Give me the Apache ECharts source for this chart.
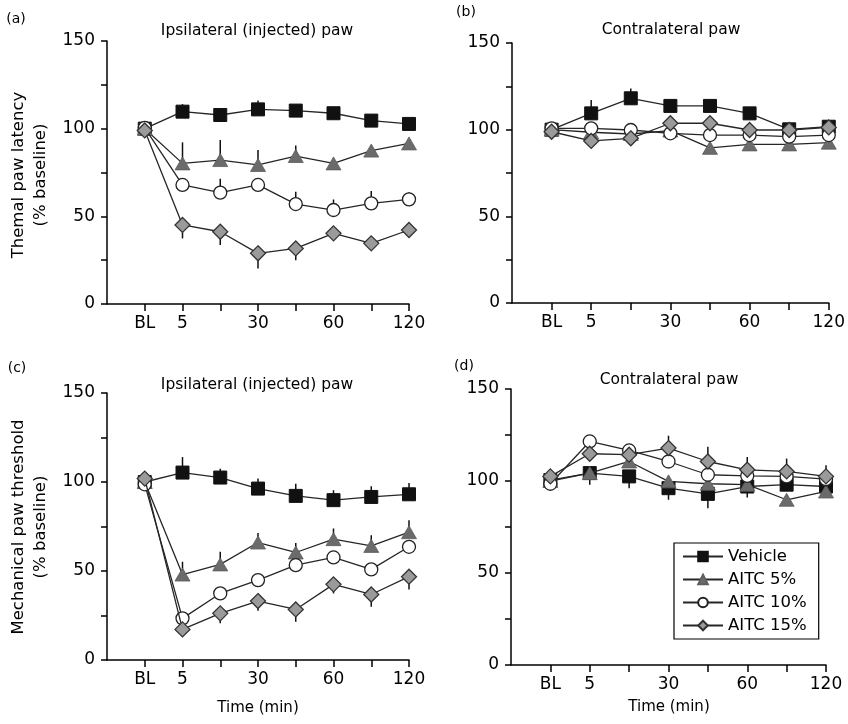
<!DOCTYPE html>
<html><head><meta charset="utf-8">
<script src="https://cdn.jsdelivr.net/npm/echarts@6/dist/echarts.min.js"></script>
<style>html,body{margin:0;padding:0;background:#fff}#c{width:848px;height:724px}</style>
</head><body><div id="c"></div>
<script>
// ---- categories / tick labels ----
const timeLabels = ['BL', '5', '15', '30', '45', '60', '90', '120'];
const shownTimeLabels = ['BL', '5', '30', '60', '120'];
const yTickLabels = [0, 50, 100, 150];
const seriesNames = ['Vehicle', 'AITC 5%', 'AITC 10%', 'AITC 15%'];

// ---- panel (a): thermal, ipsilateral ----
const aVehicle = [100, 109.7, 107.8, 111, 110.3, 108.8, 104.6, 102.7];
const aVehicleErr = [0, 4.3, 3, 5, 2, 0, 0, 0];
const aAitc5 = [100, 80.2, 82.1, 79.3, 84.4, 80.2, 87.5, 91.6];
const aAitc5Err = [0, 12, 11.5, 8.5, 6, 0, 0, 0];
const aAitc10 = [100.5, 67.9, 63.5, 67.9, 57, 53.6, 57.4, 59.7];
const aAitc10Err = [0, 0, 8, 4, 7, 6, 7, 4];
const aAitc15 = [99, 45.1, 41.2, 28.9, 31.7, 40.3, 34.6, 42.2];
const aAitc15Err = [0, -7.7, -7.6, -8.6, -6.7, -3, 0, 0];

// ---- panel (b): thermal, contralateral ----
const bVehicle = [100, 109.4, 118.1, 113.7, 113.7, 109.4, 100.2, 101.7];
const bVehicleErr = [0, 7.7, 5.7, 0, 0, 0, 0, 0];
const bAitc5 = [100, 98.5, 97.5, 99.5, 89.5, 91.5, 91.5, 92.5];
const bAitc5Err = [0, 0, 0, 0, 0, 0, 0, 0];
const bAitc10 = [100.8, 100.8, 99.8, 97.9, 96.9, 96.9, 96, 96.9];
const bAitc10Err = [0, 0, 0, 0, 0, 0, 0, 0];
const bAitc15 = [98.8, 93.5, 95, 103.7, 103.7, 99.8, 99.8, 101.3];
const bAitc15Err = [0, 0, 0, 0, 0, 0, 0, 0];

// ---- panel (c): mechanical, ipsilateral ----
const cVehicle = [100, 105.3, 102.5, 96.3, 92.2, 89.8, 91.6, 93.1];
const cVehicleErr = [0, 8.7, 5, 5.7, 6.8, 5.6, 6, 6.4];
const cAitc5 = [100, 48, 53.7, 66, 60.4, 67.9, 64.1, 71.8];
const cAitc5Err = [0, 7.2, 7.1, 5.4, 5.4, 6, 6, 6.7];
const cAitc10 = [98.7, 23.4, 37.4, 44.9, 53.3, 57.6, 50.9, 63.6];
const cAitc10Err = [0, 0, 0, 0, 0, 0, 0, 0];
const cAitc15 = [101.9, 17.2, 26.2, 33.1, 28.4, 42.5, 36.8, 46.8];
const cAitc15Err = [0, 0, -5.6, -5.4, -6.9, -5.1, -6.9, -7.2];

// ---- panel (d): mechanical, contralateral ----
const dVehicle = [100.5, 104.3, 102.5, 96.1, 93, 97, 98, 97];
const dVehicleErr = [0, -6.3, -6.5, -6.3, -7.8, 0, 0, 0];
const dAitc5 = [100, 104.3, 110.6, 99.8, 98.5, 98, 89.8, 94.3];
const dAitc5Err = [0, 0, 0, 0, 0, -7, 0, 0];
const dAitc10 = [98.5, 121.5, 116.6, 110.6, 103.4, 102.8, 102.5, 101];
const dAitc10Err = [0, 0, 0, 0, 0, 0, 0, 0];
const dAitc15 = [102.5, 114.8, 114.3, 117.9, 110.6, 106.1, 105.2, 102.5];
const dAitc15Err = [0, 0, 0, 6.7, 8, 7, 7, 6];

// ---- assembly ----
const panels = [
  { values: [aVehicle, aAitc5, aAitc10, aAitc15], errs: [aVehicleErr, aAitc5Err, aAitc10Err, aAitc15Err] },
  { values: [bVehicle, bAitc5, bAitc10, bAitc15], errs: [bVehicleErr, bAitc5Err, bAitc10Err, bAitc15Err] },
  { values: [cVehicle, cAitc5, cAitc10, cAitc15], errs: [cVehicleErr, cAitc5Err, cAitc10Err, cAitc15Err] },
  { values: [dVehicle, dAitc5, dAitc10, dAitc15], errs: [dVehicleErr, dAitc5Err, dAitc10Err, dAitc15Err] }
];

const FONT = '"DejaVu Sans", "Liberation Sans", sans-serif';
const INK = '#000';
const markerStyles = [
  { symbol: 'rect', symbolSize: 13, itemStyle: { color: '#111', borderColor: '#111', borderWidth: 1 } },
  { symbol: 'triangle', symbolSize: [15, 13], itemStyle: { color: '#6b6b6b', borderColor: '#5e5e5e', borderWidth: 0.8 } },
  { symbol: 'circle', symbolSize: 13, itemStyle: { color: '#ffffff', borderColor: '#222', borderWidth: 1.3 } },
  { symbol: 'diamond', symbolSize: [15, 15], itemStyle: { color: '#9a9a9a', borderColor: '#333', borderWidth: 1.3 } }
];

const grids = [
  { left: 107, top: 41, width: 302, height: 263 },
  { left: 512, top: 43, width: 317, height: 260 },
  { left: 107, top: 393, width: 302, height: 267 },
  { left: 511, top: 389, width: 315, height: 276 }
];

const xCats = [''].concat(timeLabels);

const xAxes = grids.map((g, i) => ({
  type: 'category', gridIndex: i, data: xCats, boundaryGap: false,
  axisLine: { show: true, onZero: false, lineStyle: { color: INK, width: 1.5 } },
  axisTick: { show: true, length: 7, interval: (idx) => idx > 0, lineStyle: { color: INK, width: 1.5 } },
  axisLabel: { interval: (idx, v) => shownTimeLabels.includes(v), margin: 11, fontSize: 17, fontFamily: FONT, color: INK },
  splitLine: { show: false }
}));

const yAxes = grids.map((g, i) => ({
  type: 'value', gridIndex: i, min: 0, max: 150, interval: 25,
  axisLine: { show: true, lineStyle: { color: INK, width: 1.5 } },
  axisTick: { show: true, length: 6, lineStyle: { color: INK, width: 1.5 } },
  axisLabel: { margin: 12, fontSize: 17, fontFamily: FONT, color: INK,
    formatter: (v) => yTickLabels.includes(v) ? String(v) : '' },
  splitLine: { show: false }
}));

function renderErr(params, api) {
  const x = api.value(0), v = api.value(1), e = api.value(2);
  const p0 = api.coord([x, v]);
  const p1 = api.coord([x, v + e]);
  return { type: 'line', shape: { x1: p0[0], y1: p0[1], x2: p1[0], y2: p1[1] },
    style: { stroke: '#111', lineWidth: 1.5 } };
}

const series = [];
panels.forEach((p, pi) => {
  p.values.forEach((vals, si) => {
    const errData = [];
    vals.forEach((v, k) => { if (p.errs[si][k] !== 0) errData.push([k + 1, v, p.errs[si][k]]); });
    series.push({
      type: 'custom', xAxisIndex: pi, yAxisIndex: pi, z: 1, silent: true,
      renderItem: renderErr, data: errData, animation: false
    });
  });
  p.values.forEach((vals, si) => {
    series.push(Object.assign({
      type: 'line', name: seriesNames[si], xAxisIndex: pi, yAxisIndex: pi, z: 3 + si,
      data: [null].concat(vals), showAllSymbol: true, connectNulls: false,
      lineStyle: { color: '#262626', width: 1.3 }, emphasis: { disabled: true }, animation: false
    }, markerStyles[si]));
  });
});

function txt(x, y, text, size, rot) {
  return { type: 'text', x: x, y: y, rotation: rot || 0, silent: true,
    style: { text: text, font: size + 'px ' + FONT, fill: INK,
      textAlign: 'center', textVerticalAlign: 'middle', align: 'center', verticalAlign: 'middle' } };
}

const graphics = [
  txt(16, 19, '(a)', 14), txt(466, 12, '(b)', 14), txt(17, 368, '(c)', 14), txt(464, 366, '(d)', 14),
  txt(257, 31, 'Ipsilateral (injected) paw', 15.5),
  txt(671, 30, 'Contralateral paw', 15.5),
  txt(257, 385, 'Ipsilateral (injected) paw', 15.5),
  txt(669, 380, 'Contralateral paw', 15.5),
  txt(19, 175, 'Themal paw latency', 16.5, Math.PI / 2),
  txt(41, 175, '(% baseline)', 16.5, Math.PI / 2),
  txt(19, 527, 'Mechanical paw threshold', 16.5, Math.PI / 2),
  txt(41, 527, '(% baseline)', 16.5, Math.PI / 2),
  txt(258, 708, 'Time (min)', 15),
  txt(669, 707, 'Time (min)', 15)
];

const chart = echarts.init(document.getElementById('c'), null, { renderer: 'canvas' });
chart.setOption({
  backgroundColor: '#fff',
  animation: false,
  grid: grids,
  xAxis: xAxes,
  yAxis: yAxes,
  legend: {
    data: seriesNames, orient: 'vertical', left: 674, top: 543,
    itemWidth: 40, itemHeight: 12, itemGap: 6,
    borderColor: INK, borderWidth: 1.2, borderRadius: 0, padding: [5, 12, 5, 8],
    textStyle: { fontFamily: FONT, fontSize: 16.5, color: INK },
    selectedMode: false
  },
  graphic: graphics,
  series: series
});
</script></body></html>
